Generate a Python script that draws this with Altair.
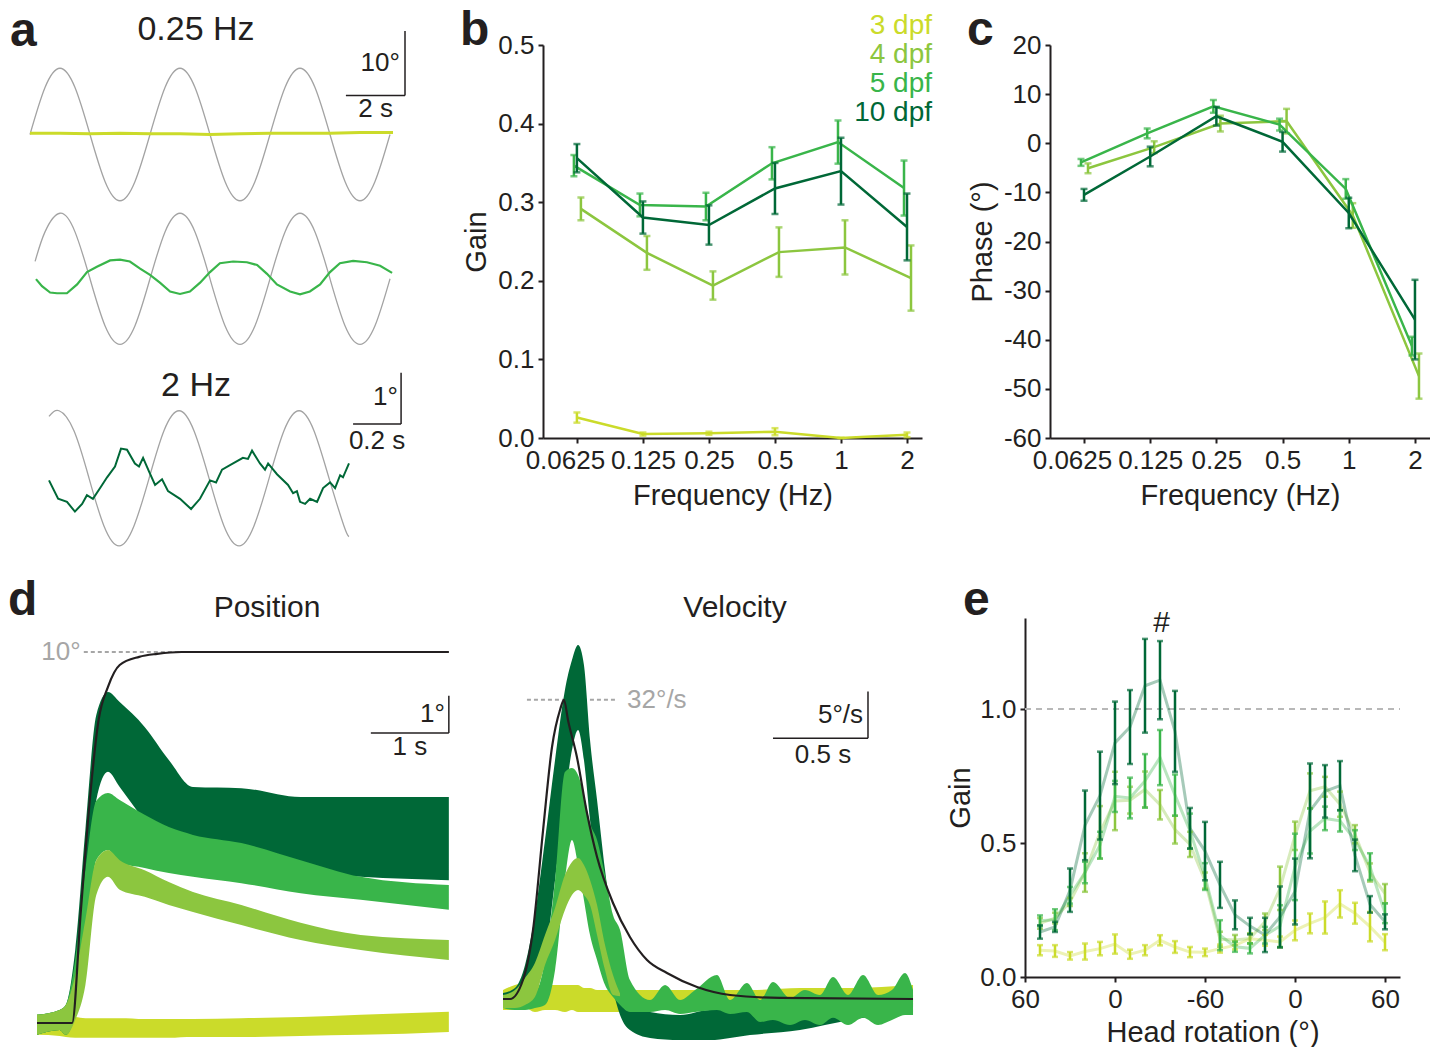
import altair as alt
import pandas as pd

FONT = "Liberation Sans"
INK = "#231f20"
STIM = "#a3a3a3"
REFC = "#a6a6a6"
SERIES = ["3 dpf", "4 dpf", "5 dpf", "10 dpf"]
COLORS = {"3 dpf": "#cbdb2a", "4 dpf": "#8cc63f", "5 dpf": "#39b54a", "10 dpf": "#006837"}
DODGE = {"3 dpf": 0, "4 dpf": 4, "5 dpf": -3, "10 dpf": 0}

# ---------------- panel a : example traces ----------------
A1_STIM_T = [0, 0.5, 1, 1.5, 2, 2.5, 3, 3.5, 4, 4.5, 5, 5.5, 6, 6.5, 7, 7.5, 8, 8.5, 9, 9.5, 10, 10.5, 11, 11.5, 12]
A1_STIM = [0, 7.3, 10.3, 7.3, 0, -7.3, -10.3, -7.3, 0, 7.3, 10.3, 7.3, 0, -7.3, -10.3, -7.3, 0, 7.3, 10.3, 7.3, 0, -7.3, -10.3, -7.3, 0]
A1_RESP_T = [0, 1, 2, 3, 4, 5, 6, 7, 8, 9, 10, 11, 12.1]
A1_RESP = [0.2, 0.2, 0.1, 0.2, 0.1, 0.1, 0.0, 0.1, 0.2, 0.2, 0.2, 0.3, 0.3]
A2_STIM_T = [0.17, 0.5, 1, 1.5, 2, 2.5, 3, 3.5, 4, 4.5, 5, 5.5, 6, 6.5, 7, 7.5, 8, 8.5, 9, 9.5, 10, 10.5, 11, 11.5, 12]
A2_STIM = [2.7, 7.3, 10.2, 7.3, 0, -7.3, -10.2, -7.3, 0, 7.3, 10.2, 7.3, 0, -7.3, -10.2, -7.3, 0, 7.3, 10.2, 7.3, 0, -7.3, -10.2, -7.3, 0]
A2_RESP_T = [0.2, 0.4, 0.67, 0.9, 1.23, 1.57, 1.9, 2.23, 2.67, 3.0, 3.33, 3.67, 4.0, 4.33, 4.67, 5.0, 5.33, 5.67,
             6.0, 6.33, 6.77, 7.23, 7.57, 7.9, 8.23, 8.67, 9.0, 9.33, 9.67, 10.0, 10.33, 10.77, 11.23, 11.67, 12.07]
A2_RESP = [-0.05, -1.15, -2.14, -2.25, -2.25, -0.88, 1.04, 1.87, 2.86, 2.97, 2.69, 1.59, 0.60, -0.60, -1.98, -2.36,
           -1.98, -0.60, 1.04, 2.42, 2.69, 2.58, 2.14, 0.77, -0.88, -1.98, -2.42, -1.98, -0.88, 1.04, 2.42, 2.80,
           2.58, 2.03, 0.93]
A3_STIM_T = [0, 0.042, 0.104, 0.167, 0.229, 0.292, 0.354, 0.417, 0.479, 0.542, 0.604, 0.667, 0.729, 0.792,
             0.854, 0.917, 0.979, 1.042, 1.104, 1.167, 1.229, 1.25]
A3_STIM = [1.21, 1.32, 0.93, 0, -0.93, -1.32, -0.93, 0, 0.93, 1.32, 0.93, 0, -0.93, -1.32, -0.93, 0, 0.93, 1.32,
           0.93, 0, -0.93, -1.14]
A3_RESP_T = [0, 0.038, 0.075, 0.108, 0.138, 0.158, 0.183, 0.213, 0.242, 0.275, 0.3, 0.325, 0.358, 0.375, 0.392,
             0.417, 0.442, 0.471, 0.496, 0.546, 0.592, 0.629, 0.671, 0.696, 0.721, 0.767, 0.808, 0.829, 0.846,
             0.879, 0.9, 0.913, 0.95, 0.996, 1.017, 1.033, 1.046, 1.067, 1.088, 1.117, 1.142, 1.171, 1.192,
             1.213, 1.225, 1.25]
A3_RESP = [-0.04, -0.40, -0.46, -0.65, -0.50, -0.33, -0.40, -0.19, 0.02, 0.23, 0.58, 0.56, 0.29, 0.23, 0.40,
           0.13, -0.13, -0.02, -0.25, -0.40, -0.60, -0.40, -0.04, -0.08, 0.17, 0.29, 0.40, 0.38, 0.54, 0.29,
           0.17, 0.29, 0.08, -0.13, -0.29, -0.25, -0.46, -0.50, -0.40, -0.46, -0.19, -0.08, -0.19, 0.06, 0.02,
           0.29]

# ---------------- panels b, c : frequency response ----------------
FREQ = [0.0625, 0.125, 0.25, 0.5, 1, 2]
GAIN_MEAN = {
    "3 dpf": [0.026, 0.005, 0.006, 0.008, 0.0, 0.004],
    "4 dpf": [0.2915, 0.2355, 0.194, 0.2365, 0.2425, 0.2035],
    "5 dpf": [0.3465, 0.2965, 0.2945, 0.3495, 0.3765, 0.318],
    "10 dpf": [0.356, 0.2805, 0.271, 0.3175, 0.3395, 0.2685],
}
GAIN_SEM = {
    "3 dpf": [0.0065, 0.002, 0.002, 0.0045, 0.0, 0.003],
    "4 dpf": [0.0145, 0.0215, 0.018, 0.0315, 0.0345, 0.0415],
    "5 dpf": [0.0135, 0.0145, 0.0175, 0.0205, 0.0275, 0.035],
    "10 dpf": [0.018, 0.0205, 0.025, 0.0325, 0.0425, 0.0425],
}
PHASE_MEAN = {
    "4 dpf": [-5.1, -0.8, 4.0, 4.5, -14.7, -47.4],
    "5 dpf": [-3.9, 2.0, 7.5, 3.8, -9.3, -41.3],
    "10 dpf": [-10.5, -2.7, 5.5, 0.3, -14.2, -35.9],
}
PHASE_SEM = {
    "4 dpf": [1.0, 1.2, 1.6, 2.5, 2.5, 4.6],
    "5 dpf": [0.7, 1.0, 1.3, 1.2, 2.0, 1.9],
    "10 dpf": [1.2, 2.0, 1.9, 2.0, 3.1, 8.1],
}

# ---------------- panel d : step responses (mean band lo / hi) ----------------
POS_T = [0, 0.29, 0.37, 0.49, 0.62, 0.76, 0.91, 1.06, 1.38, 1.69, 2.0, 2.62, 3.38, 4.15, 5.28]
POS_HI = {
    "3 dpf": [0.22, 0.22, 0.19, 0.16, 0.13, 0.13, 0.13, 0.13, 0.11, 0.11, 0.11, 0.13, 0.16, 0.22, 0.30],
    "4 dpf": [0.22, 0.35, 0.49, 1.29, 2.78, 4.39, 4.66, 4.39, 4.12, 3.80, 3.53, 3.18, 2.70, 2.37, 2.24],
    "5 dpf": [0.22, 0.35, 0.49, 1.70, 4.12, 5.99, 6.20, 6.01, 5.61, 5.28, 5.07, 4.85, 4.39, 3.94, 3.72],
    "10 dpf": [0.22, 0.35, 0.49, 1.97, 5.20, 8.30, 8.92, 8.65, 7.98, 7.09, 6.36, 6.33, 6.09, 6.09, 6.09],
}
POS_LO = {
    "3 dpf": [-0.32, -0.35, -0.38, -0.40, -0.40, -0.40, -0.40, -0.40, -0.40, -0.40, -0.38, -0.38, -0.35, -0.32, -0.24],
    "4 dpf": [-0.32, -0.19, -0.32, 0.08, 1.02, 3.45, 3.94, 3.59, 3.40, 3.18, 2.99, 2.64, 2.24, 1.97, 1.70],
    "5 dpf": [-0.32, -0.19, -0.32, 0.22, 1.70, 4.39, 4.66, 4.31, 4.18, 4.04, 3.94, 3.77, 3.50, 3.32, 3.05],
    "10 dpf": [-0.32, -0.19, -0.32, 0.35, 2.51, 6.01, 6.77, 6.36, 5.47, 4.85, 4.61, 4.34, 4.07, 3.94, 3.85],
}
POS_STIM_T = [0, 0.45, 0.56, 0.68, 0.79, 0.91, 1.06, 1.31, 1.54, 1.85, 5.28]
POS_STIM = [0, 0, 2.96, 6.09, 8.17, 9.06, 9.65, 9.87, 9.95, 10.0, 10.0]

VEL_T = {
    "3 dpf": [0, 0.063, 0.116, 0.168, 0.221, 0.274, 0.326, 0.363, 0.395, 0.426, 0.458, 0.495, 0.537, 0.579, 0.616,
              0.668, 0.774, 0.932, 1.089, 1.3, 1.563, 1.826, 2.158],
    "4 dpf": [0, 0.063, 0.116, 0.168, 0.221, 0.274, 0.326, 0.363, 0.395, 0.426, 0.458, 0.495, 0.537, 0.579, 0.616],
    "5 dpf": [0, 0.063, 0.116, 0.168, 0.221, 0.274, 0.326, 0.363, 0.395, 0.426, 0.458, 0.495, 0.537, 0.579, 0.616,
              0.668, 0.774, 0.853, 0.932, 1.011, 1.126, 1.195, 1.284, 1.353, 1.421, 1.511, 1.589, 1.668, 1.737,
              1.816, 1.895, 1.974, 2.047, 2.116, 2.158],
    "10 dpf": [0, 0.063, 0.116, 0.168, 0.221, 0.274, 0.326, 0.363, 0.395, 0.426, 0.458, 0.495, 0.537, 0.579, 0.616,
               0.668, 0.774, 0.932, 1.089, 1.3, 1.563, 1.826, 2.158],
}
VEL_HI = {
    "3 dpf": [0.96, 1.50, 1.71, 1.50, 1.50, 1.50, 1.50, 1.50, 1.50, 1.18, 1.18, 0.96, 0.96, 0.96, 0.96, 0.96, 0.96,
              0.96, 0.96, 0.96, 1.18, 1.18, 1.50],
    "4 dpf": [0.43, 0.96, 2.25, 3.85, 6.84, 9.73, 13.26, 14.65, 15.08, 14.33, 12.73, 10.05, 5.78, 2.57, 0.60],
    "5 dpf": [0.43, 0.43, 0.43, 0.64, 4.17, 12.73, 24.28, 24.71, 23.96, 21.82, 18.82, 17.01, 13.26, 8.98, 7.38, 2.03,
              -0.11, 1.50, -0.11, 0.96, 2.57, -0.11, 1.71, -0.11, 1.82, 0.11, 0.96, 0.43, 2.35, 0.43, 2.57, 0.43,
              0.96, 2.78, 0.96],
    "10 dpf": [0.64, 1.18, 3.64, 8.98, 17.0, 25.56, 33.05, 36.26, 37.86, 35.72, 27.70, 21.28, 13.80, 7.38, 2.57,
               -0.64, -1.39, -1.71, -1.18, -1.18, -0.64, -0.11, 0.43],
}
VEL_LO = {
    "3 dpf": [-1.18, -1.18, -0.96, -1.39, -1.18, -1.18, -1.39, -1.18, -1.39, -1.39, -1.39, -1.39, -1.39, -1.39,
              -1.39, -1.39, -1.18, -1.18, -1.18, -1.18, -0.96, -0.96, -0.64],
    "4 dpf": [-0.96, -0.96, -0.64, 0.21, 3.64, 6.31, 9.52, 11.12, 11.66, 11.12, 10.05, 6.84, 3.10, 0.43, 0.30],
    "5 dpf": [-0.96, -1.18, -1.18, -0.96, -0.64, 3.10, 12.73, 17.01, 14.33, 10.59, 6.84, 4.17, 1.50, 0.21, -0.64,
              -1.39, -1.39, -1.18, -1.60, -1.39, -1.18, -1.60, -1.39, -2.46, -2.25, -2.78, -2.25, -2.78, -2.00,
              -2.78, -2.00, -2.78, -2.25, -1.71, -1.71],
    "10 dpf": [-0.64, -0.43, -0.11, 0.96, 4.17, 12.73, 21.28, 26.63, 28.77, 25.56, 19.14, 12.73, 5.24, 0.96, -1.71,
               -3.32, -4.17, -4.39, -4.39, -3.85, -3.32, -2.25, -1.39],
}
VEL_STIM_T = [0, 0.037, 0.105, 0.158, 0.211, 0.258, 0.3, 0.321, 0.342, 0.389, 0.442, 0.495, 0.579, 0.668, 0.758,
              0.863, 1.021, 1.195, 1.458, 2.158]
VEL_STIM = [0, 0, 2.03, 7.38, 18.07, 26.95, 30.91, 32.0, 29.84, 25.88, 19.89, 15.19, 10.27, 6.63, 4.17, 2.78, 1.28,
            0.43, 0.11, 0]

# ---------------- panel e : gain vs head rotation ----------------
ROT = [10, 20, 30, 40, 50, 60, 70, 80, 90, 100, 110, 120, 130, 140, 150, 160, 170, 180, 190, 200, 210, 220, 230, 240]
ROT_TICKS = [0, 60, 120, 180, 240]
ROT_LABELS = ["60", "0", "-60", "0", "60"]
E_MEAN = {
    "3 dpf": [0.1, 0.097, 0.079, 0.095, 0.106, 0.123, 0.085, 0.1, 0.137, 0.112, 0.093, 0.092, 0.106, 0.118, 0.143,
              0.137, 0.131, 0.174, 0.2, 0.222, 0.273, 0.238, 0.188, 0.13],
    "4 dpf": [0.2, 0.22, 0.28, 0.39, 0.54, 0.657, 0.66, 0.70, 0.643, 0.55, 0.495, 0.36, 0.141, 0.138, 0.144, 0.206,
              0.331, 0.527, 0.695, 0.71, 0.645, 0.533, 0.39, 0.311],
    "5 dpf": [0.21, 0.214, 0.305, 0.39, 0.492, 0.674, 0.668, 0.732, 0.819, 0.679, 0.545, 0.375, 0.156, 0.113, 0.107,
              0.156, 0.19, 0.411, 0.545, 0.592, 0.583, 0.511, 0.412, 0.238],
    "10 dpf": [0.168, 0.187, 0.324, 0.566, 0.677, 0.874, 0.933, 1.087, 1.108, 0.917, 0.555, 0.47, 0.344, 0.232, 0.19,
               0.157, 0.224, 0.319, 0.62, 0.693, 0.714, 0.454, 0.271, 0.206],
}
E_SEM = {
    "3 dpf": [0.019, 0.022, 0.014, 0.03, 0.025, 0.036, 0.017, 0.019, 0.019, 0.022, 0.019, 0.014, 0.015, 0.015, 0.018,
              0.02, 0.02, 0.037, 0.037, 0.06, 0.051, 0.039, 0.055, 0.03],
    "4 dpf": [0.02, 0.02, 0.015, 0.072, 0.098, 0.109, 0.05, 0.067, 0.055, 0.052, 0.047, 0.03, 0.028, 0.019, 0.019,
              0.031, 0.081, 0.053, 0.065, 0.037, 0.047, 0.034, 0.034, 0.036],
    "5 dpf": [0.02, 0.039, 0.031, 0.04, 0.05, 0.058, 0.076, 0.1, 0.103, 0.077, 0.065, 0.05, 0.056, 0.019, 0.019,
              0.031, 0.078, 0.124, 0.084, 0.044, 0.04, 0.037, 0.05, 0.037],
    "10 dpf": [0.025, 0.019, 0.081, 0.13, 0.164, 0.154, 0.138, 0.175, 0.146, 0.151, 0.076, 0.109, 0.086, 0.054,
               0.031, 0.064, 0.114, 0.123, 0.177, 0.098, 0.092, 0.059, 0.031, 0.028],
}

ONE = pd.DataFrame({"k": [0]})


def S(dom, rng):
    return alt.Scale(domain=dom, range=rng, nice=False, zero=False)


def ptxt(s, x, y, size, color=INK, align="center", baseline="middle", bold=False):
    return alt.Chart(ONE).mark_text(
        text=s, font=FONT, fontSize=size, color=color, align=align, baseline=baseline,
        fontWeight="bold" if bold else "normal",
    ).encode(x=alt.value(x), y=alt.value(y))


def dtxt(s, xv, yv, xs, ys, size, color=INK, align="center", baseline="middle", ax=None, ay=None):
    return alt.Chart(ONE).mark_text(
        text=s, font=FONT, fontSize=size, color=color, align=align, baseline=baseline
    ).encode(x=alt.X(datum=xv, scale=xs, axis=ax), y=alt.Y(datum=yv, scale=ys, axis=ay))


def hrule(x1, x2, yv, xs, ys, color=INK, width=1.5, dash=None, ax=None, ay=None):
    kw = dict(color=color, strokeWidth=width)
    if dash:
        kw["strokeDash"] = dash
    return alt.Chart(ONE).mark_rule(**kw).encode(
        x=alt.X(datum=x1, scale=xs, axis=ax), x2=alt.X2(datum=x2), y=alt.Y(datum=yv, scale=ys, axis=ay))


def vrule(xv, y1, y2, xs, ys, color=INK, width=1.5):
    return alt.Chart(ONE).mark_rule(color=color, strokeWidth=width).encode(
        x=alt.X(datum=xv, scale=xs, axis=None), y=alt.Y(datum=y1, scale=ys, axis=None), y2=alt.Y2(datum=y2))


def trace(t, v, xs, ys, color, width, interp="linear"):
    d = pd.DataFrame({"t": t, "v": v})
    return alt.Chart(d).mark_line(color=color, strokeWidth=width, interpolate=interp).encode(
        x=alt.X("t:Q", scale=xs, axis=None), y=alt.Y("v:Q", scale=ys, axis=None))


def band(t, lo, hi, xs, ys, color):
    d = pd.DataFrame({"t": t, "lo": lo, "hi": hi})
    return alt.Chart(d).mark_area(color=color, opacity=1, interpolate="monotone").encode(
        x=alt.X("t:Q", scale=xs, axis=None), y=alt.Y("lo:Q", scale=ys, axis=None), y2="hi:Q")


# ---------------- panel a ----------------
def a_sc(row):
    if row == 1:
        return S([0, 12.5], [30, 405]), S([-10, 16], [153.8, -13.4])
    if row == 2:
        return S([0, 12.5], [30, 405]), S([-11, 11], [304.5, 163.1])
    return S([0, 1.5], [49, 409]), S([-1.5, 2.2], [510.1, 320.7])


a_layers = [
    alt.Chart(ONE).mark_rect(color="white").encode(
        x=alt.value(0), x2=alt.value(1), y=alt.value(-45), y2=alt.value(-44)),
    ptxt("a", 10, 1, 48, bold=True, align="left", baseline="alphabetic"),
    ptxt("0.25 Hz", 196, -15, 34),
    ptxt("2 Hz", 196, 341, 34),
]
xs, ys = a_sc(1)
a_layers += [trace(A1_STIM_T, A1_STIM, xs, ys, STIM, 1.3, "natural")]
xs, ys = a_sc(1)
a_layers += [trace(A1_RESP_T, A1_RESP, xs, ys, COLORS["3 dpf"], 3)]
for mk in (lambda xs, ys: hrule(10.53, 12.5, 6.08, xs, ys),
           lambda xs, ys: vrule(12.5, 6.08, 16.08, xs, ys),
           lambda xs, ys: dtxt("10°", 12.33, 11.18, xs, ys, 26, align="right"),
           lambda xs, ys: dtxt("2 s", 11.52, 3.89, xs, ys, 26)):
    xs, ys = a_sc(1)
    a_layers.append(mk(xs, ys))
xs, ys = a_sc(2)
a_layers += [trace(A2_STIM_T, A2_STIM, xs, ys, STIM, 1.3, "natural")]
xs, ys = a_sc(2)
a_layers += [trace(A2_RESP_T, A2_RESP, xs, ys, COLORS["5 dpf"], 2.2)]
xs, ys = a_sc(3)
a_layers += [trace(A3_STIM_T, A3_STIM, xs, ys, STIM, 1.3, "natural")]
xs, ys = a_sc(3)
a_layers += [trace(A3_RESP_T, A3_RESP, xs, ys, COLORS["10 dpf"], 2)]
for mk in (lambda xs, ys: hrule(1.267, 1.467, 1.06, xs, ys),
           lambda xs, ys: vrule(1.467, 1.06, 2.06, xs, ys),
           lambda xs, ys: dtxt("1°", 1.454, 1.58, xs, ys, 26, align="right"),
           lambda xs, ys: dtxt("0.2 s", 1.367, 0.73, xs, ys, 26)):
    xs, ys = a_sc(3)
    a_layers.append(mk(xs, ys))

panel_a = alt.layer(*a_layers).resolve_scale(x="independent", y="independent").properties(width=415, height=393)


# ---------------- panels b and c ----------------
def freq_panel(means, sems, ydom, yvals, ytitle, ylabel_expr, letter, legend, width):
    fx = alt.Scale(type="log", base=2, domain=[0.04378, 2.341], nice=False)
    fy = alt.Scale(domain=ydom, nice=False, zero=False)
    ax = alt.Axis(values=FREQ, format="~g", title="Frequency (Hz)", titlePadding=8, labelOverlap=False,
                  labelFlush=False,
                  labelOffset={"condition": {"test": "datum.value == 0.0625", "value": -12}, "value": 0})
    ay = alt.Axis(values=yvals, labelExpr=ylabel_expr, title=ytitle, titlePadding=6)
    layers = []
    for name in SERIES:
        if name not in means:
            continue
        m, s = means[name], sems[name]
        d = pd.DataFrame({"f": FREQ, "m": m,
                          "lo": [a - b for a, b in zip(m, s)], "hi": [a + b for a, b in zip(m, s)]})
        c, off = COLORS[name], DODGE[name]
        X = alt.X("f:Q", scale=fx, axis=ax)
        base = alt.Chart(d)
        layers.append(base.mark_line(color=c, strokeWidth=2.5, xOffset=off).encode(
            x=X, y=alt.Y("m:Q", scale=fy, axis=ay)))
        layers.append(base.mark_rule(color=c, strokeWidth=2.5, xOffset=off).encode(
            x=X, y=alt.Y("lo:Q", scale=fy, axis=ay), y2="hi:Q"))
        for fld in ("lo", "hi"):
            layers.append(base.mark_tick(color=c, thickness=2.5, size=7, orient="horizontal", xOffset=off).encode(
                x=X, y=alt.Y(f"{fld}:Q", scale=fy, axis=ay)))
    layers.append(ptxt(letter, -83, 0, 48, bold=True, align="left", baseline="alphabetic"))
    if legend:
        for i, name in enumerate(SERIES):
            layers.append(ptxt(name, 389, -11 + 29 * i, 28, color=COLORS[name], align="right",
                               baseline="alphabetic"))
    return alt.layer(*layers).properties(width=width, height=393)


panel_b = freq_panel(GAIN_MEAN, GAIN_SEM, [0, 0.5], [0, 0.1, 0.2, 0.3, 0.4, 0.5], "Gain",
                     "format(datum.value, '.1f')", "b", True, 379)
panel_c = freq_panel(PHASE_MEAN, PHASE_SEM, [-60, 20], [-60, -50, -40, -30, -20, -10, 0, 10, 20], "Phase (°)",
                     "datum.value + ''", "c", False, 380)

# ---------------- panel d : position ----------------
px, py = S([0, 5.3], [37, 450.4]), S([-0.5, 10], [423.55, 34])
dpos_layers = [ptxt("d", 8, -3, 48, bold=True, align="left", baseline="alphabetic"),
               ptxt("Position", 267, -10, 30)]
dpos_layers.append(hrule(0.6, 5.28, 10, px, py, color=REFC, width=2, dash=[4, 3]))
dpos_layers.append(dtxt("10°", 0.56, 10, px, py, 26, color=REFC, align="right"))
for name in ["3 dpf", "10 dpf", "5 dpf", "4 dpf"]:
    dpos_layers.append(band(POS_T, POS_LO[name], POS_HI[name], px, py, COLORS[name]))
dpos_layers.append(trace(POS_STIM_T, POS_STIM, px, py, INK, 2.2, "monotone"))
dpos_layers += [hrule(4.28, 5.28, 7.82, px, py), vrule(5.28, 7.82, 8.82, px, py),
                dtxt("1°", 5.23, 8.32, px, py, 26, align="right"),
                dtxt("1 s", 4.78, 7.44, px, py, 26)]
panel_dpos = alt.layer(*dpos_layers).properties(width=372, height=393)

# ---------------- panel d : velocity (column origin at x=543) ----------------
vx, vy = S([0, 2.18], [-40, 374.2]), S([-5, 40], [427.75, 7])
dvel_layers = [ptxt("Velocity", 192, -10, 30)]
dvel_layers.append(hrule(0.126, 0.6, 32, vx, vy, color=REFC, width=2, dash=[4, 3]))
dvel_layers.append(dtxt("32°/s", 0.653, 32, vx, vy, 26, color=REFC, align="left"))
for name in ["3 dpf", "10 dpf", "5 dpf", "4 dpf"]:
    dvel_layers.append(band(VEL_T[name], VEL_LO[name], VEL_HI[name], vx, vy, COLORS[name]))
dvel_layers.append(trace(VEL_STIM_T, VEL_STIM, vx, vy, INK, 2.2, "monotone"))
dvel_layers += [hrule(1.421, 1.921, 27.9, vx, vy), vrule(1.921, 27.9, 32.9, vx, vy),
                dtxt("5°/s", 1.895, 30.4, vx, vy, 26, align="right"),
                dtxt("0.5 s", 1.684, 26.1, vx, vy, 26)]
panel_dvel = alt.layer(*dvel_layers).properties(width=379, height=393)

# ---------------- panel e (column origin at x=1050, axis pulled 25 px left) ----------------
ex = alt.Scale(domain=[0, 250], range=[-25, 350], nice=False, zero=False)
ey = alt.Scale(domain=[0, 1.34], nice=False, zero=False)
lab_expr = " : ".join(f"datum.value == {v} ? '{l}'" for v, l in zip(ROT_TICKS[:-1], ROT_LABELS[:-1])) + \
    f" : '{ROT_LABELS[-1]}'"
eax = alt.Axis(values=ROT_TICKS, labelExpr=lab_expr, title="Head rotation (°)", titlePadding=6,
               labelFlush=False, labelOverlap=False)
eay = alt.Axis(values=[0, 0.5, 1.0], labelExpr="format(datum.value, '.1f')", title="Gain", titlePadding=4,
               offset=25, labelFlush=False)
e_layers = [hrule(0, 250, 1.0, ex, ey, color="#b8b8b8", width=2, dash=[6, 5], ax=eax, ay=eay)]
e_frames = {}
for name in SERIES:
    m, s = E_MEAN[name], E_SEM[name]
    e_frames[name] = pd.DataFrame({"u": ROT, "m": m,
                                   "lo": [a - b for a, b in zip(m, s)], "hi": [a + b for a, b in zip(m, s)]})
for name in SERIES:
    e_layers.append(alt.Chart(e_frames[name]).mark_line(color=COLORS[name], strokeWidth=3, opacity=0.35).encode(
        x=alt.X("u:Q", scale=ex, axis=eax), y=alt.Y("m:Q", scale=ey, axis=eay)))
for name in SERIES:
    base = alt.Chart(e_frames[name])
    X = alt.X("u:Q", scale=ex, axis=eax)
    c = COLORS[name]
    e_layers.append(base.mark_rule(color=c, strokeWidth=2.5).encode(
        x=X, y=alt.Y("lo:Q", scale=ey, axis=eay), y2="hi:Q"))
    for fld in ("lo", "hi"):
        e_layers.append(base.mark_tick(color=c, thickness=2.5, size=6, orient="horizontal").encode(
            x=X, y=alt.Y(f"{fld}:Q", scale=ey, axis=eay)))
e_layers.append(dtxt("#", 91, 1.32, ex, ey, 30, ax=eax, ay=eay))
e_layers.append(ptxt("e", -87, -3, 48, bold=True, align="left", baseline="alphabetic"))
panel_e = alt.layer(*e_layers).properties(width=350, height=359)

chart = alt.concat(
    panel_a, panel_b, panel_c, panel_dpos, panel_dvel, panel_e,
    columns=3, spacing={"row": 180, "column": 128}, bounds="flush", align="none",
).properties(padding=0).configure(background="white").configure_view(stroke=None).configure_axis(
    domainColor=INK, domainWidth=2, tickColor=INK, tickWidth=2, tickSize=5,
    labelFont=FONT, labelFontSize=26, labelColor=INK, labelPadding=4,
    titleFont=FONT, titleFontSize=29, titleFontWeight="normal", titleColor=INK, grid=False,
)

chart.save("out.html", embed_options={"renderer": "svg", "actions": False})
